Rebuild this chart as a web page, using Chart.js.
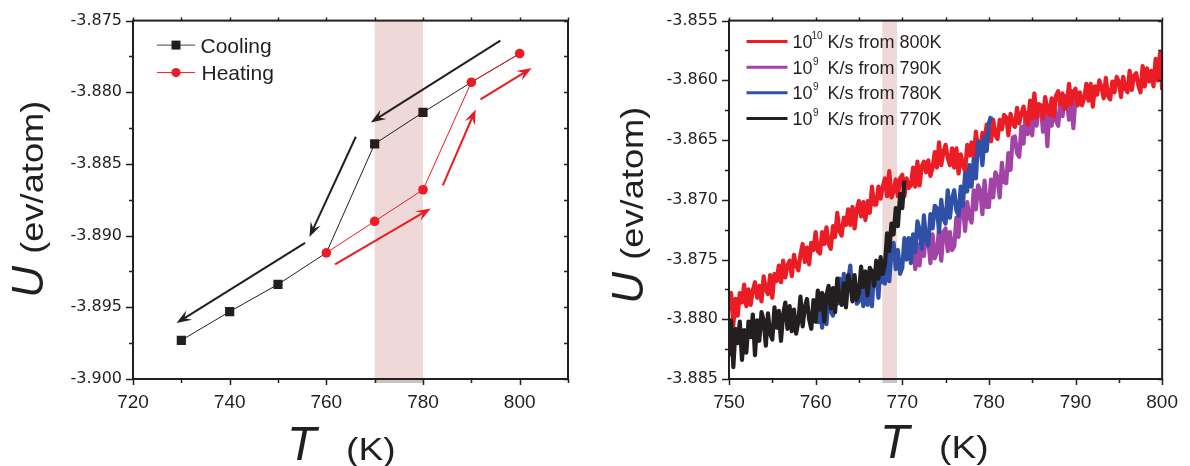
<!DOCTYPE html>
<html lang="en">

<head>
    <meta charset="UTF-8">
    <script src="https://cdn.jsdelivr.net/npm/chart.js"></script>
    <title>U vs T</title>
    <style>
        body { margin: 0; background: #fff; }
        #wrap { position: relative; width: 1190px; height: 466px; background: #fff; }
        #wrap canvas { position: absolute; top: 0; }
    </style>
</head>

<body>
    <div id="wrap">
        <canvas id="chartLeft" width="595" height="466" style="left:0"></canvas>
        <canvas id="chartRight" width="595" height="466" style="left:595px"></canvas>
    </div>
</body>

</html>

<script>

    // ---- left panel: cooling / heating runs ----
    const coolT = [730, 740, 750, 760, 770, 780, 790, 800];
    const coolU = [-3.8973, -3.8953, -3.8934, -3.8912, -3.8836, -3.8814, -3.8793, -3.8773];
    const heatT = [760, 770, 780, 790, 800];
    const heatU = [-3.8912, -3.8890, -3.8868, -3.8793, -3.8773];
    const leftNames = ['Cooling', 'Heating'];
    const leftBand = [770, 780];
    // direction arrows [T0, U0, T1, U1]
    const coolArrows = [[796, -3.8764, 769.2, -3.8821], [766.1, -3.8831, 756.5, -3.8901], [755.6, -3.8905, 729, -3.8961]];
    const heatArrows = [[761.8, -3.8920, 781.6, -3.8881], [784.1, -3.8865, 790.9, -3.8812], [791.9, -3.8805, 802.5, -3.8783]];

    // ---- right panel: quench runs, sampled every STEP kelvin ----
    const STEP = 0.25;
    const rateExp = ['10', '9', '9', '9'];
    const rateText = ['K/s from 800K', 'K/s from 790K', 'K/s from 780K', 'K/s from 770K'];
    const rightBand = [767.7, 769.4];

    const q800Start = 750;
    const q800U = [
        -3.8793, -3.8778, -3.8805, -3.8783, -3.8797, -3.8778, -3.8786, -3.8771,
        -3.8789, -3.8775, -3.8788, -3.8776, -3.8769, -3.8782, -3.8772, -3.8785,
        -3.8764, -3.8775, -3.8779, -3.8763, -3.8782, -3.8762, -3.8768, -3.8755,
        -3.8769, -3.8751, -3.8765, -3.8755, -3.8751, -3.8764, -3.8746, -3.8755,
        -3.8759, -3.8746, -3.8737, -3.8752, -3.8740, -3.8754, -3.8736, -3.8742,
        -3.8727, -3.8743, -3.8745, -3.8727, -3.8737, -3.8723, -3.8737, -3.8741,
        -3.8722, -3.8731, -3.8711, -3.8726, -3.8730, -3.8715, -3.8721, -3.8708,
        -3.8721, -3.8706, -3.8724, -3.8708, -3.8701, -3.8714, -3.8702, -3.8717,
        -3.8701, -3.8711, -3.8689, -3.8704, -3.8704, -3.8689, -3.8699, -3.8689,
        -3.8682, -3.8697, -3.8676, -3.8698, -3.8693, -3.8683, -3.8697, -3.8682,
        -3.8679, -3.8697, -3.8682, -3.8690, -3.8688, -3.8673, -3.8689, -3.8668,
        -3.8688, -3.8672, -3.8668, -3.8677, -3.8667, -3.8680, -3.8673, -3.8660,
        -3.8673, -3.8652, -3.8671, -3.8660, -3.8654, -3.8665, -3.8671, -3.8657,
        -3.8673, -3.8657, -3.8678, -3.8662, -3.8671, -3.8676, -3.8654, -3.8663,
        -3.8652, -3.8665, -3.8643, -3.8658, -3.8659, -3.8644, -3.8650, -3.8637,
        -3.8641, -3.8651, -3.8633, -3.8646, -3.8649, -3.8633, -3.8641, -3.8629,
        -3.8631, -3.8646, -3.8628, -3.8636, -3.8639, -3.8623, -3.8636, -3.8628,
        -3.8622, -3.8632, -3.8637, -3.8617, -3.8632, -3.8611, -3.8631, -3.8620,
        -3.8621, -3.8632, -3.8614, -3.8625, -3.8629, -3.8615, -3.8630, -3.8613,
        -3.8609, -3.8620, -3.8611, -3.8624, -3.8620, -3.8603, -3.8620, -3.8610,
        -3.8607, -3.8621, -3.8610, -3.8621, -3.8615, -3.8603, -3.8617, -3.8603,
        -3.8622, -3.8605, -3.8612, -3.8600, -3.8606, -3.8615, -3.8598, -3.8613,
        -3.8616, -3.8601, -3.8610, -3.8597, -3.8601, -3.8614, -3.8597, -3.8607,
        -3.8610, -3.8592, -3.8608, -3.8596, -3.8594, -3.8604, -3.8610, -3.8588,
        -3.8605, -3.8590, -3.8601, -3.8592, -3.8605, -3.8582, -3.8600, -3.8577,
        -3.8608
    ];

    const q790Start = 771;
    const q790U = [
        -3.8753, -3.8733, -3.8758, -3.8737, -3.8755, -3.8733, -3.8747, -3.8726,
        -3.8733, -3.8753, -3.8729, -3.8749, -3.8744, -3.8724, -3.8751, -3.8727,
        -3.8724, -3.8743, -3.8727, -3.8742, -3.8739, -3.8715, -3.8731, -3.8702,
        -3.8704, -3.8726, -3.8702, -3.8715, -3.8719, -3.8692, -3.8708, -3.8688,
        -3.8692, -3.8712, -3.8684, -3.8706, -3.8706, -3.8683, -3.8698, -3.8677,
        -3.8681, -3.8698, -3.8669, -3.8685, -3.8686, -3.8661, -3.8675, -3.8648,
        -3.8647, -3.8661, -3.8664, -3.8639, -3.8653, -3.8627, -3.8645, -3.8629,
        -3.8646, -3.8622, -3.8638, -3.8620, -3.8622, -3.8643, -3.8625, -3.8655,
        -3.8621, -3.8638, -3.8617, -3.8634, -3.8638, -3.8617, -3.8630, -3.8613,
        -3.8617, -3.8633, -3.8609, -3.8640, -3.8614
    ];

    const q780Start = 760.25;
    const q780U = [
        -3.8804, -3.8782, -3.8807,
        -3.8780, -3.8804, -3.8780, -3.8793, -3.8797, -3.8774, -3.8787, -3.8766,
        -3.8786, -3.8762, -3.8787, -3.8768, -3.8755, -3.8782, -3.8768, -3.8787,
        -3.8785, -3.8766, -3.8789, -3.8765, -3.8788, -3.8767, -3.8789, -3.8760,
        -3.8761, -3.8782, -3.8752, -3.8769, -3.8770, -3.8745, -3.8768, -3.8744,
        -3.8736, -3.8758, -3.8742, -3.8762, -3.8757, -3.8732, -3.8750, -3.8732,
        -3.8753, -3.8729, -3.8744, -3.8718, -3.8725, -3.8741, -3.8713, -3.8734,
        -3.8738, -3.8712, -3.8724, -3.8705, -3.8707, -3.8727, -3.8700, -3.8716,
        -3.8720, -3.8692, -3.8715, -3.8699, -3.8692, -3.8709, -3.8713, -3.8689,
        -3.8705, -3.8678, -3.8693, -3.8671, -3.8689, -3.8666, -3.8682, -3.8651,
        -3.8652, -3.8671, -3.8647, -3.8659, -3.8636, -3.8630
    ];

    const q770Start = 750;
    const q770U = [
        -3.8831, -3.8801, -3.8840, -3.8808, -3.8820, -3.8802, -3.8834, -3.8809,
        -3.8828, -3.8802, -3.8815, -3.8796, -3.8830, -3.8801, -3.8818, -3.8794,
        -3.8801, -3.8822, -3.8795, -3.8812, -3.8817, -3.8790, -3.8807, -3.8793,
        -3.8818, -3.8796, -3.8786, -3.8808, -3.8789, -3.8810, -3.8792, -3.8812,
        -3.8802, -3.8781, -3.8806, -3.8790, -3.8783, -3.8800, -3.8808, -3.8784,
        -3.8802, -3.8776, -3.8792, -3.8778, -3.8802, -3.8780, -3.8772, -3.8791,
        -3.8774, -3.8794, -3.8766, -3.8784, -3.8788, -3.8770, -3.8790, -3.8763,
        -3.8770, -3.8785, -3.8763, -3.8784, -3.8778, -3.8756, -3.8773, -3.8760,
        -3.8780, -3.8757, -3.8760, -3.8772, -3.8751, -3.8766, -3.8748, -3.8762,
        -3.8754, -3.8728, -3.8743, -3.8720, -3.8729, -3.8707, -3.8722, -3.8695,
        -3.8707, -3.8684
    ];

    const INK = '#231f20';
    const RED = '#ec1c24';
    const PURPLE = '#a144a6';
    const BLUE = '#3050a8';
    const BAND = '#eed8d8';
    const SANS = '"Liberation Sans", Arial, sans-serif';

    function pts(xs, ys) {
        return ys.map((u, i) => ({ x: xs[i], y: u }));
    }

    function sampled(start, ys) {
        return ys.map((u, i) => ({ x: start + i * STEP, y: u }));
    }

    // text widened along its own direction
    function wideText(ctx, str, x, y, font, sx) {
        ctx.save();
        ctx.translate(x, y);
        ctx.scale(sx, 1);
        ctx.font = font;
        ctx.fillText(str, 0, 0);
        ctx.restore();
    }

    function arrow(ctx, x0, y0, x1, y1, color) {
        const dx = x1 - x0, dy = y1 - y0, len = Math.hypot(dx, dy);
        const ux = dx / len, uy = dy / len;
        const L = 15, W = 5.5;
        ctx.strokeStyle = color;
        ctx.fillStyle = color;
        ctx.lineWidth = 2;
        ctx.beginPath();
        ctx.moveTo(x0, y0);
        ctx.lineTo(x1 - ux * L * 0.6, y1 - uy * L * 0.6);
        ctx.stroke();
        ctx.beginPath();
        ctx.moveTo(x1, y1);
        ctx.lineTo(x1 - ux * L - uy * W, y1 - uy * L + ux * W);
        ctx.lineTo(x1 - ux * L * 0.62, y1 - uy * L * 0.62);
        ctx.lineTo(x1 - ux * L + uy * W, y1 - uy * L - ux * W);
        ctx.closePath();
        ctx.fill();
    }

    // shaded temperature window behind the data
    const band = {
        id: 'band',
        beforeDatasetsDraw(chart, args, opts) {
            const { ctx, chartArea: a, scales: { x } } = chart;
            const x0 = x.getPixelForValue(opts.range[0]);
            const x1 = x.getPixelForValue(opts.range[1]);
            ctx.save();
            ctx.fillStyle = BAND;
            ctx.fillRect(x0, a.top, x1 - x0, a.bottom - a.top);
            ctx.fillStyle = '#c9c4c4';
            ctx.fillRect(x0, a.bottom, x1 - x0, 4);
            ctx.restore();
        }
    };

    // closed frame with major / minor tick marks
    const frame = {
        id: 'frame',
        afterDatasetsDraw(chart) {
            const { ctx, chartArea: a, scales: { x, y } } = chart;
            ctx.save();
            ctx.strokeStyle = INK;
            ctx.lineWidth = 2;
            ctx.strokeRect(a.left, a.top, a.right - a.left, a.bottom - a.top);
            ctx.lineWidth = 1.5;
            ctx.beginPath();
            x.ticks.forEach((t) => {
                const px = Math.round(x.getPixelForValue(t.value)) + 0.5;
                const major = t.label !== '';
                ctx.moveTo(px, a.bottom);
                ctx.lineTo(px, a.bottom + (major ? 6 : 4));
                ctx.moveTo(px, a.top);
                ctx.lineTo(px, a.top - 3);
            });
            y.ticks.forEach((t) => {
                const py = Math.round(y.getPixelForValue(t.value)) + 0.5;
                const major = t.label !== '';
                ctx.moveTo(a.left, py);
                ctx.lineTo(a.left - (major ? 7 : 4), py);
                ctx.moveTo(a.right, py);
                ctx.lineTo(a.right - 4, py);
            });
            ctx.stroke();
            ctx.restore();
        }
    };

    const arrows = {
        id: 'arrows',
        afterDatasetsDraw(chart, args, opts) {
            if (!opts.sets) return;
            const { ctx, scales: { x, y } } = chart;
            ctx.save();
            opts.sets.forEach(([list, color]) => {
                list.forEach(([t0, u0, t1, u1]) => {
                    arrow(ctx, x.getPixelForValue(t0), y.getPixelForValue(u0),
                        x.getPixelForValue(t1), y.getPixelForValue(u1), color);
                });
            });
            ctx.restore();
        }
    };

    // "U (ev/atom)" and "T (K)"
    const axisTitles = {
        id: 'axisTitles',
        afterDraw(chart, args, opts) {
            const { ctx, chartArea: a } = chart;
            const cy = (a.top + a.bottom) / 2 + opts.yShift;
            ctx.save();
            ctx.fillStyle = INK;
            ctx.textBaseline = 'alphabetic';
            ctx.textAlign = 'left';

            ctx.save();
            ctx.translate(a.left + opts.yTitleX, cy + 98);
            ctx.rotate(-Math.PI / 2);
            ctx.font = 'italic 44px ' + SANS;
            ctx.fillText('U', 0, 0);
            wideText(ctx, '(ev/atom)', 44, 0, '31px ' + SANS, 1.17);
            ctx.restore();

            const tx = a.left + opts.xTitleX;
            const ty = a.bottom + opts.xTitleY;
            ctx.font = 'italic 48px ' + SANS;
            ctx.fillText('T', tx, ty);
            wideText(ctx, '(K)', tx + 59, ty, '31px ' + SANS, 1.2);
            ctx.restore();
        }
    };

    const leftLegend = {
        id: 'leftLegend',
        afterDraw(chart) {
            const { ctx, chartArea: a } = chart;
            const x0 = a.left + 24, x1 = a.left + 62, xm = a.left + 43;
            const rows = [a.top + 24.5, a.top + 52];
            ctx.save();
            ctx.lineWidth = 1;
            // cooling
            ctx.strokeStyle = '#444';
            ctx.beginPath(); ctx.moveTo(x0, rows[0]); ctx.lineTo(x1, rows[0]); ctx.stroke();
            ctx.fillStyle = INK;
            ctx.fillRect(xm - 4.5, rows[0] - 4.5, 9, 9);
            // heating
            ctx.strokeStyle = RED;
            ctx.beginPath(); ctx.moveTo(x0, rows[1]); ctx.lineTo(x1, rows[1]); ctx.stroke();
            ctx.fillStyle = RED;
            ctx.beginPath(); ctx.arc(xm, rows[1], 4.6, 0, Math.PI * 2); ctx.fill();
            ctx.fillStyle = INK;
            ctx.font = '21px ' + SANS;
            ctx.textBaseline = 'alphabetic';
            ctx.fillText(leftNames[0], a.left + 67.5, rows[0] + 7.5);
            ctx.fillText(leftNames[1], a.left + 68.5, rows[1] + 7.5);
            ctx.restore();
        }
    };

    const rightLegend = {
        id: 'rightLegend',
        afterDraw(chart) {
            const { ctx, chartArea: a } = chart;
            const colors = [RED, PURPLE, BLUE, INK];
            ctx.save();
            ctx.textBaseline = 'alphabetic';
            colors.forEach((c, i) => {
                const yy = a.top + 21 + i * 25.6;
                ctx.strokeStyle = c;
                ctx.lineWidth = 3;
                ctx.beginPath();
                ctx.moveTo(a.left + 17.5, yy);
                ctx.lineTo(a.left + 58.5, yy);
                ctx.stroke();
                ctx.fillStyle = INK;
                ctx.font = '18px ' + SANS;
                ctx.fillText('10', a.left + 63.5, yy + 6.5);
                ctx.font = '10px ' + SANS;
                ctx.fillText(rateExp[i], a.left + (rateExp[i].length > 1 ? 82.5 : 84), yy - 2.5);
                ctx.font = '18px ' + SANS;
                ctx.fillText(rateText[i], a.left + 98.5, yy + 6.5);
            });
            ctx.restore();
        }
    };

    function yTickLabel(v) {
        return Math.round(v * 10000) % 50 === 0 ? v.toFixed(3) : '';
    }

    function baseScales(xMin, xMax, xStep, xEvery, yMin, yMax, yWidth) {
        return {
            x: {
                type: 'linear', min: xMin, max: xMax,
                afterFit: (s) => { s.height = 87; },
                grid: { display: false, drawTicks: false },
                border: { display: false },
                ticks: {
                    stepSize: xStep, autoSkip: false, maxRotation: 0, padding: 12,
                    color: INK, font: { family: SANS, size: 19 },
                    callback: (v) => (Math.round(v) % xEvery === 0 ? String(v) : '')
                }
            },
            y: {
                type: 'linear', min: yMin, max: yMax,
                afterFit: (s) => { s.width = yWidth; },
                grid: { display: false, drawTicks: false },
                border: { display: false },
                ticks: {
                    stepSize: 0.0025, autoSkip: false, padding: 11,
                    color: INK, font: { family: '"DejaVu Sans", sans-serif', size: 16 },
                    callback: yTickLabel
                }
            }
        };
    }

    // a cooling square is left out where a heating point covers the same spot
    function coolMarker(c) {
        const i = c.dataIndex;
        const j = heatT.indexOf(coolT[i]);
        return j >= 0 && heatU[j] === coolU[i] ? 0 : 6.5;
    }

    new Chart(document.getElementById('chartLeft'), {
        type: 'line',
        data: {
            datasets: [{
                label: leftNames[1],
                data: pts(heatT, heatU),
                borderColor: RED, backgroundColor: RED, borderWidth: 1,
                pointStyle: 'circle', pointRadius: 4.8, pointBorderWidth: 0,
                order: 0
            }, {
                label: leftNames[0],
                data: pts(coolT, coolU),
                borderColor: INK, backgroundColor: INK, borderWidth: 1,
                pointStyle: 'rect', pointBorderWidth: 0,
                pointRadius: coolMarker,
                order: 1
            }]
        },
        options: {
            responsive: false, animation: false, devicePixelRatio: 1, events: [],
            layout: { padding: { top: 19, right: 27, left: 0, bottom: 0 } },
            scales: baseScales(720, 810, 10, 20, -3.9, -3.875, 133),
            plugins: {
                legend: { display: false }, tooltip: { enabled: false },
                band: { range: leftBand },
                arrows: { sets: [[coolArrows, INK], [heatArrows, RED]] },
                axisTitles: { yTitleX: -90, yShift: 0, xTitleX: 154, xTitleY: 81 }
            }
        },
        plugins: [band, frame, arrows, axisTitles, leftLegend]
    });

    const lineStyle = { borderWidth: 4.2, pointRadius: 0, tension: 0, borderJoinStyle: 'round', fill: false };

    new Chart(document.getElementById('chartRight'), {
        type: 'line',
        data: {
            datasets: [
                Object.assign({ label: '770K', data: sampled(q770Start, q770U), borderColor: INK, order: 0 }, lineStyle),
                Object.assign({ label: '780K', data: sampled(q780Start, q780U), borderColor: BLUE, order: 1 }, lineStyle),
                Object.assign({ label: '800K', data: sampled(q800Start, q800U), borderColor: RED, order: 2 }, lineStyle),
                Object.assign({ label: '790K', data: sampled(q790Start, q790U), borderColor: PURPLE, order: 3 }, lineStyle)
            ]
        },
        options: {
            responsive: false, animation: false, devicePixelRatio: 1, events: [],
            layout: { padding: { top: 19, right: 21, left: 0, bottom: 0 } },
            scales: baseScales(750, 800, 5, 10, -3.885, -3.855, 134),
            plugins: {
                legend: { display: false }, tooltip: { enabled: false },
                band: { range: rightBand },
                arrows: {},
                axisTitles: { yTitleX: -86, yShift: 6, xTitleX: 151, xTitleY: 79 }
            }
        },
        plugins: [band, frame, arrows, axisTitles, rightLegend]
    });

</script>
